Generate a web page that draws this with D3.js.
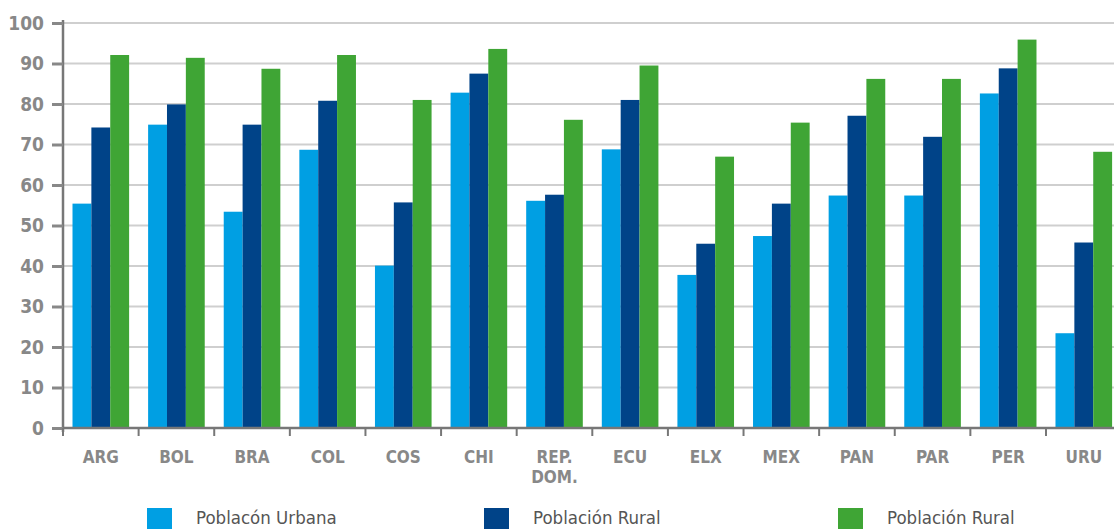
<!DOCTYPE html>
<html>
<head>
<meta charset="utf-8">
<script src="https://cdn.jsdelivr.net/npm/d3@7"></script>
<style>
  body { margin: 0; background: #fff; }
  svg { display: block; overflow: hidden; }
</style>
</head>
<body>
<div id="chart"></div>
<script>
// data
var countries = ["ARG", "BOL", "BRA", "COL", "COS", "CHI", "REP. DOM.", "ECU", "ELX", "MEX", "PAN", "PAR", "PER", "URU"];
var urbana = [55.4, 74.9, 53.4, 68.7, 40.1, 82.8, 56.1, 68.8, 37.8, 47.4, 57.4, 57.4, 82.6, 23.4];
var rural  = [74.2, 79.9, 74.9, 80.8, 55.7, 87.5, 57.6, 81.0, 45.5, 55.4, 77.1, 71.9, 88.8, 45.8];
var rural2 = [92.1, 91.4, 88.7, 92.1, 81.0, 93.6, 76.1, 89.5, 67.0, 75.4, 86.2, 86.2, 95.9, 68.2];
var seriesNames = ["Poblacón Urbana", "Población Rural", "Población Rural"];
var yTicks = [0, 10, 20, 30, 40, 50, 60, 70, 80, 90, 100];

var colors = ["#009fe3", "#004388", "#3fa535"];
var font = "'DejaVu Sans Condensed', 'DejaVu Sans', sans-serif";

var W = 1114, H = 529;
var margin = {top: 23, left: 63, bottom: 101};
var plotW = 1058.6, plotH = H - margin.top - margin.bottom;

var svg = d3.select("#chart").append("svg")
    .attr("width", W)
    .attr("height", H);

var g = svg.append("g")
    .attr("transform", "translate(" + margin.left + "," + margin.top + ")");

var x = d3.scaleBand()
    .domain(countries)
    .range([0, plotW])
    .paddingInner(0)
    .paddingOuter(0);

var x1 = d3.scaleBand()
    .domain([0, 1, 2])
    .range([9.5, x.bandwidth() - 9.5]);

var y = d3.scaleLinear()
    .domain([0, 100])
    .range([plotH, 0]);

// gridlines
g.append("g")
  .selectAll("line")
  .data(yTicks.slice(1))
  .enter().append("line")
    .attr("x1", 0)
    .attr("x2", W)
    .attr("y1", function(d) { return y(d); })
    .attr("y2", function(d) { return y(d); })
    .attr("stroke", "#cfcfcf")
    .attr("stroke-width", 2);

// bars
var rows = countries.map(function(c, i) { return {c: c, v: [urbana[i], rural[i], rural2[i]]}; });

g.append("g")
  .selectAll("g")
  .data(rows)
  .enter().append("g")
    .attr("transform", function(d) { return "translate(" + x(d.c) + ",0)"; })
  .selectAll("rect")
  .data(function(d) { return d.v; })
  .enter().append("rect")
    .attr("x", function(d, i) { return x1(i); })
    .attr("width", x1.bandwidth())
    .attr("y", function(d) { return y(d); })
    .attr("height", function(d) { return plotH - y(d); })
    .attr("fill", function(d, i) { return colors[i]; });

// y axis
var yAxis = g.append("g")
    .call(d3.axisLeft(y).tickValues(yTicks).tickSize(11).tickPadding(8).tickSizeOuter(0));
yAxis.select(".domain").attr("stroke", "#777").attr("stroke-width", 2.5)
    .attr("d", "M0,-3V" + (plotH + 4));
yAxis.selectAll(".tick line").attr("stroke", "#888").attr("stroke-width", 3);
yAxis.selectAll(".tick text")
    .attr("fill", "#888")
    .style("font-family", font)
    .style("font-weight", "bold")
    .style("font-size", "19px");

// x axis
var xAxis = g.append("g")
    .attr("transform", "translate(0," + plotH + ")");
xAxis.append("line")
    .attr("x1", 0).attr("x2", W)
    .attr("stroke", "#777").attr("stroke-width", 2.5);
xAxis.selectAll(".xt")
  .data(countries.concat(["end"]))
  .enter().append("line")
    .attr("x1", function(d, i) { return i * x.step(); })
    .attr("x2", function(d, i) { return i * x.step(); })
    .attr("y1", 0).attr("y2", 8)
    .attr("stroke", "#777").attr("stroke-width", 2);

xAxis.selectAll(".xl")
  .data(countries)
  .enter().append("text")
    .attr("text-anchor", "middle")
    .attr("fill", "#888")
    .style("font-family", font)
    .style("font-weight", "bold")
    .style("font-size", "17px")
    .attr("transform", function(d) { return "translate(" + (x(d) + x.bandwidth() / 2) + ",35)"; })
    .each(function(d) {
      var parts = d.split(" ");
      var t = d3.select(this);
      parts.forEach(function(p, k) {
        t.append("tspan").attr("x", 0).attr("dy", k === 0 ? 0 : 20).text(p);
      });
    });

// legend
var legendX = [147, 484, 838];
var legend = svg.append("g");
seriesNames.forEach(function(name, i) {
  legend.append("rect")
    .attr("x", legendX[i]).attr("y", 508)
    .attr("width", 25).attr("height", 21)
    .attr("fill", colors[i]);
  legend.append("text")
    .attr("x", legendX[i] + 49).attr("y", 524)
    .attr("fill", "#555")
    .style("font-family", font)
    .style("font-size", "18.5px")
    .text(name);
});
</script>
</body>
</html>
